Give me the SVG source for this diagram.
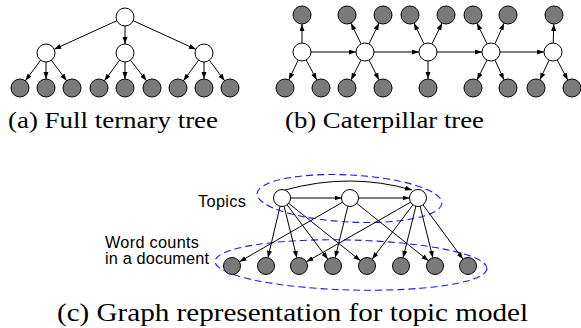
<svg xmlns="http://www.w3.org/2000/svg" width="581" height="328" viewBox="0 0 581 328">
<style>
.n{fill:#fff;stroke:#000;stroke-width:1}
.l{fill:#7a7a7a;stroke:#000;stroke-width:1}
.e{stroke:#000;stroke-width:1;fill:none;marker-end:url(#ah)}
.cap{font-family:"Liberation Serif","Times New Roman",serif;font-size:23.5px;fill:#000}
.capc{font-family:"Liberation Serif","Times New Roman",serif;font-size:25px;fill:#000}
.lab{font-family:"Liberation Sans",Arial,sans-serif;font-size:16.3px;fill:#000}
.ell{fill:none;stroke:#1a1aff;stroke-width:1.1;stroke-dasharray:7 4}
</style>
<defs>
<marker id="ah" markerUnits="userSpaceOnUse" markerWidth="7" markerHeight="6" refX="7" refY="2.5" orient="auto">
<path d="M0,0 L7,2.5 L0,5 z" fill="#000"/>
</marker>
</defs>

<!-- (a) full ternary tree -->
<g id="edges-a">
<line class="e" x1="116.8" y1="20.7" x2="54.2" y2="49.3"/>
<line class="e" x1="125" y1="26" x2="125" y2="44"/>
<line class="e" x1="133.2" y1="20.7" x2="195.8" y2="49.3"/>
<line class="e" x1="40.6" y1="60.2" x2="25.4" y2="80.8"/>
<line class="e" x1="46" y1="62" x2="46" y2="79"/>
<line class="e" x1="51.4" y1="60.2" x2="66.6" y2="80.8"/>
<line class="e" x1="119.6" y1="60.2" x2="104.4" y2="80.8"/>
<line class="e" x1="125" y1="62" x2="125" y2="79"/>
<line class="e" x1="130.5" y1="60.2" x2="146.5" y2="80.8"/>
<line class="e" x1="198.6" y1="60.2" x2="183.4" y2="80.8"/>
<line class="e" x1="204" y1="62" x2="204" y2="79"/>
<line class="e" x1="209.4" y1="60.2" x2="224.6" y2="80.8"/>
</g>
<g id="a-root"><circle class="n" cx="125" cy="17" r="9"/></g>
<g id="a-m1"><circle class="n" cx="46" cy="53" r="9"/></g>
<g id="a-m2"><circle class="n" cx="125" cy="53" r="9"/></g>
<g id="a-m3"><circle class="n" cx="204" cy="53" r="9"/></g>
<g id="a-l1"><circle class="l" cx="20" cy="88" r="9"/></g>
<g id="a-l2"><circle class="l" cx="46" cy="88" r="9"/></g>
<g id="a-l3"><circle class="l" cx="72" cy="88" r="9"/></g>
<g id="a-l4"><circle class="l" cx="99" cy="88" r="9"/></g>
<g id="a-l5"><circle class="l" cx="125" cy="88" r="9"/></g>
<g id="a-l6"><circle class="l" cx="152" cy="88" r="9"/></g>
<g id="a-l7"><circle class="l" cx="178" cy="88" r="9"/></g>
<g id="a-l8"><circle class="l" cx="204" cy="88" r="9"/></g>
<g id="a-l9"><circle class="l" cx="230" cy="88" r="9"/></g>

<!-- (b) caterpillar tree -->
<g id="edges-b">
<line class="e" x1="311" y1="52" x2="356" y2="52"/>
<line class="e" x1="374" y1="52" x2="419" y2="52"/>
<line class="e" x1="437" y1="52" x2="482" y2="52"/>
<line class="e" x1="500" y1="52" x2="544" y2="52"/>
<line class="e" x1="302" y1="43" x2="302" y2="24"/>
<line class="e" x1="298.2" y1="60.1" x2="288.8" y2="79.9"/>
<line class="e" x1="306.2" y1="60" x2="316.8" y2="80"/>
<line class="e" x1="361.1" y1="43.9" x2="350.9" y2="23.1"/>
<line class="e" x1="368.9" y1="43.9" x2="379.1" y2="23.1"/>
<line class="e" x1="361" y1="60.1" x2="351" y2="79.9"/>
<line class="e" x1="369" y1="60.1" x2="379" y2="79.9"/>
<line class="e" x1="424.1" y1="43.9" x2="413.9" y2="23.1"/>
<line class="e" x1="431.9" y1="43.9" x2="442.1" y2="23.1"/>
<line class="e" x1="428" y1="61" x2="428" y2="79"/>
<line class="e" x1="487.1" y1="43.9" x2="476.9" y2="23.1"/>
<line class="e" x1="494.9" y1="43.9" x2="504.1" y2="23.1"/>
<line class="e" x1="487" y1="60.1" x2="477" y2="79.9"/>
<line class="e" x1="495" y1="60.1" x2="504" y2="79.9"/>
<line class="e" x1="553.2" y1="43" x2="553.8" y2="24"/>
<line class="e" x1="549.2" y1="60.1" x2="539.8" y2="79.9"/>
<line class="e" x1="557.2" y1="60" x2="567.8" y2="80"/>
</g>
<g id="b-c1"><circle class="n" cx="302" cy="52" r="9"/></g>
<g id="b-c2"><circle class="n" cx="365" cy="52" r="9"/></g>
<g id="b-c3"><circle class="n" cx="428" cy="52" r="9"/></g>
<g id="b-c4"><circle class="n" cx="491" cy="52" r="9"/></g>
<g id="b-c5"><circle class="n" cx="553" cy="52" r="9"/></g>
<g id="b-t1"><circle class="l" cx="302" cy="15" r="9"/></g>
<g id="b-t2"><circle class="l" cx="347" cy="15" r="9"/></g>
<g id="b-t3"><circle class="l" cx="383" cy="15" r="9"/></g>
<g id="b-t4"><circle class="l" cx="410" cy="15" r="9"/></g>
<g id="b-t5"><circle class="l" cx="446" cy="15" r="9"/></g>
<g id="b-t6"><circle class="l" cx="473" cy="15" r="9"/></g>
<g id="b-t7"><circle class="l" cx="508" cy="15" r="9"/></g>
<g id="b-t8"><circle class="l" cx="554" cy="15" r="9"/></g>
<g id="b-d1"><circle class="l" cx="285" cy="88" r="9"/></g>
<g id="b-d2"><circle class="l" cx="321" cy="88" r="9"/></g>
<g id="b-d3"><circle class="l" cx="347" cy="88" r="9"/></g>
<g id="b-d4"><circle class="l" cx="383" cy="88" r="9"/></g>
<g id="b-d5"><circle class="l" cx="428" cy="88" r="9"/></g>
<g id="b-d6"><circle class="l" cx="473" cy="88" r="9"/></g>
<g id="b-d7"><circle class="l" cx="508" cy="88" r="9"/></g>
<g id="b-d8"><circle class="l" cx="536" cy="88" r="9"/></g>
<g id="b-d9"><circle class="l" cx="572" cy="88" r="9"/></g>

<text class="cap" x="8" y="128" textLength="210" lengthAdjust="spacingAndGlyphs">(a) Full ternary tree</text>
<text class="cap" x="285" y="128" textLength="199" lengthAdjust="spacingAndGlyphs">(b) Caterpillar tree</text>

<!-- (c) topic model -->
<g id="groups-c">
<ellipse class="ell" cx="349.5" cy="198.5" rx="92.5" ry="23.5" transform="rotate(3 349.5 198.5)"/>
<ellipse class="ell" cx="351" cy="265" rx="136" ry="25" transform="rotate(1.5 351 265)"/>
</g>
<g id="edges-c">
<line class="e" x1="290.5" y1="198" x2="341.5" y2="198"/>
<line class="e" x1="358.5" y1="198" x2="409.5" y2="198"/>
<path class="e" d="M285,190 Q350,172 412,190"/>
<line class="e" x1="280.1" y1="206.3" x2="267.9" y2="257.7"/>
<line class="e" x1="284.1" y1="206.2" x2="296.9" y2="257.8"/>
<line class="e" x1="287.1" y1="204.8" x2="327.9" y2="259.2"/>
<line class="e" x1="288.6" y1="203.3" x2="360.4" y2="260.7"/>
<line class="e" x1="342.6" y1="202.2" x2="239.4" y2="261.8"/>
<line class="e" x1="347.9" y1="206.2" x2="335.1" y2="257.8"/>
<line class="e" x1="356.6" y1="203.3" x2="428.4" y2="260.7"/>
<line class="e" x1="410.6" y1="202.2" x2="306.4" y2="261.8"/>
<line class="e" x1="412.9" y1="204.8" x2="372.1" y2="259.2"/>
<line class="e" x1="415.9" y1="206.2" x2="403.1" y2="257.8"/>
<line class="e" x1="420.1" y1="206.2" x2="432.9" y2="257.8"/>
<line class="e" x1="423" y1="204.8" x2="463" y2="259.2"/>
</g>
<g id="c-t1"><circle class="n" cx="282" cy="198" r="8.5"/></g>
<g id="c-t2"><circle class="n" cx="350" cy="198" r="8.5"/></g>
<g id="c-t3"><circle class="n" cx="418" cy="198" r="8.5"/></g>
<g id="c-w1"><circle class="l" cx="232" cy="266" r="8.5"/></g>
<g id="c-w2"><circle class="l" cx="266" cy="266" r="8.5"/></g>
<g id="c-w3"><circle class="l" cx="299" cy="266" r="8.5"/></g>
<g id="c-w4"><circle class="l" cx="333" cy="266" r="8.5"/></g>
<g id="c-w5"><circle class="l" cx="367" cy="266" r="8.5"/></g>
<g id="c-w6"><circle class="l" cx="401" cy="266" r="8.5"/></g>
<g id="c-w7"><circle class="l" cx="435" cy="266" r="8.5"/></g>
<g id="c-w8"><circle class="l" cx="468" cy="266" r="8.5"/></g>
<text class="lab" x="198" y="206.5" textLength="48">Topics</text>
<text class="lab" x="105" y="247.5" textLength="94">Word counts</text>
<text class="lab" x="105" y="264" textLength="104">in a document</text>
<text class="capc" x="57" y="321" textLength="471" lengthAdjust="spacingAndGlyphs">(c) Graph representation for topic model</text>
</svg>
